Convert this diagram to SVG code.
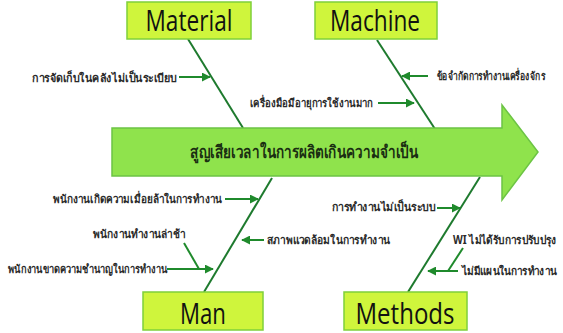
<svg xmlns="http://www.w3.org/2000/svg" width="563" height="333" viewBox="0 0 563 333">
  <defs>
    <marker id="ah" viewBox="0 0 10 10" refX="9" refY="5" markerWidth="4.5" markerHeight="4.5" orient="auto" markerUnits="strokeWidth">
      <path d="M0,0 L10,5 L0,10 z" fill="#1f8a2c"/>
    </marker>
    <style>
      .box { fill: #cff53c; stroke: #7fd03a; stroke-width: 1.5; }
      .cat { font-family: "Open Sans", "Liberation Sans", sans-serif; font-size: 29px; fill: #111; text-anchor: middle; }
      .bone { stroke: #1e7a2e; stroke-width: 2; fill: none; }
      .sub { stroke: #1f8a2c; stroke-width: 2; fill: none; }
      .arr { stroke: #1f8a2c; stroke-width: 2; fill: none; marker-end: url(#ah); }
      .lbl { font-family: "Noto Sans", "DejaVu Sans", sans-serif; font-size: 11.5px; fill: #2a2a2a; font-weight: bold; }
      .title { font-family: "Noto Sans", "DejaVu Sans", sans-serif; font-size: 17.5px; fill: #1a2e12; font-weight: bold; }
    </style>
  </defs>
  <rect width="563" height="333" fill="#ffffff"/>

  <g id="connectors">
    <line class="bone" x1="188" y1="39" x2="243" y2="128"/>
    <line class="bone" x1="377" y1="40" x2="435" y2="129"/>
    <line class="bone" x1="272" y1="178" x2="204" y2="292"/>
    <line class="bone" x1="480" y1="177" x2="408" y2="292"/>
    <line class="arr" x1="179" y1="77" x2="210" y2="77"/>
    <line class="arr" x1="378" y1="103" x2="414" y2="103"/>
    <line class="arr" x1="428" y1="76" x2="402" y2="76"/>
    <line class="arr" x1="225" y1="199" x2="258" y2="199"/>
    <line class="arr" x1="167" y1="269" x2="213" y2="269"/>
    <line class="arr" x1="264" y1="240" x2="242" y2="240"/>
    <line class="arr" x1="437" y1="208" x2="460" y2="208"/>
    <line class="arr" x1="458" y1="271" x2="428" y2="271"/>
    <line class="sub" x1="184" y1="243" x2="199" y2="269"/>
    <line class="sub" x1="463" y1="248" x2="448" y2="271"/>
  </g>

  <g id="effect">
    <polygon points="112,128 502,128 502,105 538,152 502,200 502,176 112,176" fill="#8fe34c" stroke="#6cc444" stroke-width="1.5"/>
    <text class="title" x="190" y="158" textLength="228" lengthAdjust="spacingAndGlyphs">สูญเสียเวลาในการผลิตเกินความจำเป็น</text>
  </g>

  <g id="material">
    <rect class="box" x="127" y="2" width="124" height="37"/>
    <text class="cat" x="189" y="31" textLength="87" lengthAdjust="spacingAndGlyphs">Material</text>
  </g>
  <g id="machine">
    <rect class="box" x="315" y="2" width="122" height="37"/>
    <text class="cat" x="375" y="31" textLength="90" lengthAdjust="spacingAndGlyphs">Machine</text>
  </g>
  <g id="man">
    <rect class="box" x="143" y="292" width="120" height="38"/>
    <text class="cat" x="203" y="324" textLength="46" lengthAdjust="spacingAndGlyphs">Man</text>
  </g>
  <g id="methods">
    <rect class="box" x="344" y="292" width="123" height="38"/>
    <text class="cat" x="405" y="324" textLength="99" lengthAdjust="spacingAndGlyphs">Methods</text>
  </g>

  <g id="cause-labels">
    <text class="lbl" x="32" y="82" textLength="145" lengthAdjust="spacingAndGlyphs">การจัดเก็บในคลังไม่เป็นระเบียบ</text>
    <text class="lbl" x="250" y="107" textLength="123" lengthAdjust="spacingAndGlyphs">เครื่องมือมีอายุการใช้งานมาก</text>
    <text class="lbl" transform="translate(437,80) scale(0.6,1)" x="0" y="0" textLength="180" lengthAdjust="spacingAndGlyphs">ข้อจำกัดการทำงานเครื่องจักร</text>
    <text class="lbl" x="53" y="203" textLength="169" lengthAdjust="spacingAndGlyphs">พนักงานเกิดความเมื่อยล้าในการทำงาน</text>
    <text class="lbl" x="93" y="238" textLength="92" lengthAdjust="spacingAndGlyphs">พนักงานทำงานล่าช้า</text>
    <text class="lbl" x="8" y="273" textLength="159" lengthAdjust="spacingAndGlyphs">พนักงานขาดความชำนาญในการทำงาน</text>
    <text class="lbl" x="267" y="244" textLength="123" lengthAdjust="spacingAndGlyphs">สภาพแวดล้อมในการทำงาน</text>
    <text class="lbl" x="332" y="211" textLength="103" lengthAdjust="spacingAndGlyphs">การทำงานไม่เป็นระบบ</text>
    <text class="lbl" transform="translate(453,244) scale(0.6,1)" x="0" y="0" textLength="173" lengthAdjust="spacingAndGlyphs">WI ไม่ได้รับการปรับปรุง</text>
    <text class="lbl" transform="translate(462,275) scale(0.6,1)" x="0" y="0" textLength="157" lengthAdjust="spacingAndGlyphs">ไม่มีแผนในการทำงาน</text>
  </g>
</svg>
